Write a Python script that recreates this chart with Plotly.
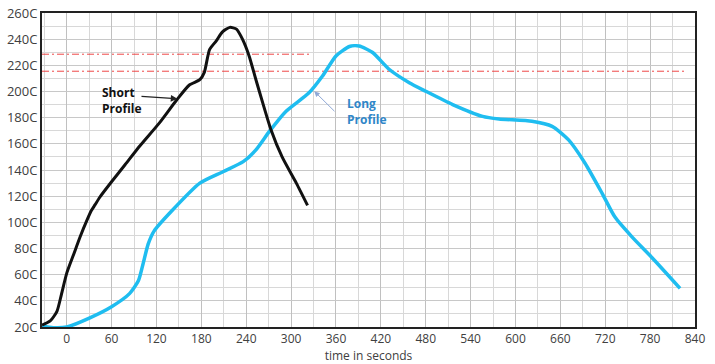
import plotly.graph_objects as go

short_t = [-33, -22, -13, -7, 0, 9, 18, 27, 33, 38, 44, 60, 78, 98, 124, 147, 164, 178, 184, 191, 200, 208, 218, 227, 235, 244, 253, 262, 273, 288, 307, 322]
short_temp = [21.5, 24.6, 32, 45, 61, 75, 89, 101.5, 109, 113.5, 119, 131, 144, 158.5, 176, 193.5, 205, 209, 214.6, 232, 238.7, 245.4, 249, 247.7, 240, 227, 209, 191.5, 171, 150, 130, 113]

long_t = [-33, -18, 0, 31, 60, 84, 96, 102, 109, 117, 140, 178, 209, 236, 253, 271, 293, 324, 342, 360, 378, 391, 409, 431, 458, 480, 516, 556, 578, 622, 649, 671, 693, 716, 733, 756, 782, 820]
long_temp = [20.5, 19.5, 20, 27, 35.5, 45.5, 55.5, 68, 83.5, 93.5, 108.5, 130, 138.7, 146.4, 155.4, 169.5, 184.8, 199, 211.8, 227.2, 234.4, 234.8, 229.8, 217, 206.7, 200.2, 190, 181, 179, 177.2, 173.3, 163, 145.2, 122, 104, 88.7, 73.3, 49.5]

ref_lines = [  # (temperature, end time)
    (228.5, 327),
    (215.5, 828),
]

x_ticks = list(range(0, 841, 60))
y_ticks = list(range(20, 261, 20))
y_labels = [f"{v}C" for v in y_ticks]

FONT = "Open Sans, Liberation Sans, sans-serif"

fig = go.Figure()
for temp, tend in ref_lines:
    fig.add_trace(go.Scatter(x=[-33, tend], y=[temp, temp], mode="lines",
                             line=dict(color="rgba(235,40,40,0.85)", width=1, dash="7px,3px,2px,3px"),
                             hoverinfo="skip", showlegend=False))
fig.add_trace(go.Scatter(x=long_t, y=long_temp, mode="lines",
                         line=dict(color="#1fbdf0", width=3.5, shape="spline", smoothing=0.6),
                         showlegend=False))
fig.add_trace(go.Scatter(x=short_t, y=short_temp, mode="lines",
                         line=dict(color="#111111", width=3, shape="spline", smoothing=0.6),
                         showlegend=False))

# Short profile label + arrow
fig.add_annotation(x=148, y=194.4, ax=98, ay=196.4, axref="x", ayref="y",
                   text="", showarrow=True, arrowhead=2, arrowsize=1.1, arrowwidth=1.2,
                   arrowcolor="#222222")
fig.add_annotation(x=44, y=193, text="<b>Short<br>Profile</b>", showarrow=False,
                   xanchor="left", yanchor="middle", align="left",
                   font=dict(family=FONT, size=12, color="#111111"))
# Long profile label + arrow
fig.add_annotation(x=331, y=200.2, ax=360, ay=183.8, axref="x", ayref="y",
                   text="", showarrow=True, arrowhead=2, arrowsize=1.1, arrowwidth=1,
                   arrowcolor="#8fa8d6")
fig.add_annotation(x=372, y=185, text="<b>Long<br>Profile</b>", showarrow=False,
                   xanchor="left", yanchor="middle", align="left",
                   font=dict(family=FONT, size=12, color="#2f86c8"))

fig.update_layout(
    width=715, height=364,
    margin=dict(l=42, r=20, t=13, b=37, autoexpand=False),
    plot_bgcolor="white", paper_bgcolor="white",
    font=dict(family=FONT, size=13, color="#404040"),
    xaxis=dict(range=[-33, 840], tickvals=x_ticks, ticks="", showline=True, mirror=True,
               linecolor="#222222", linewidth=2, gridcolor="#c0c0c0", gridwidth=1.2,
               minor=dict(dtick=30, tick0=0, showgrid=True, gridcolor="#d8d8d8", gridwidth=1.2),
               zeroline=False, automargin=False, tickfont=dict(size=12),
               title=dict(text="time in seconds", standoff=2, font=dict(size=12))),
    yaxis=dict(range=[20, 260], tickvals=y_ticks, ticktext=y_labels, ticks="", showline=True,
               mirror=True, linecolor="#222222", linewidth=2, gridcolor="#c8c8c8", gridwidth=1.2,
               minor=dict(dtick=10, tick0=0, showgrid=True, gridcolor="#d8d8d8", gridwidth=1.2),
               zeroline=False, automargin=False, tickfont=dict(size=13), ticklabelstandoff=0),
)

fig.write_html("out.html", config={"displayModeBar": False},
               post_script="document.body.style.margin='0';document.body.style.overflow='hidden';")
